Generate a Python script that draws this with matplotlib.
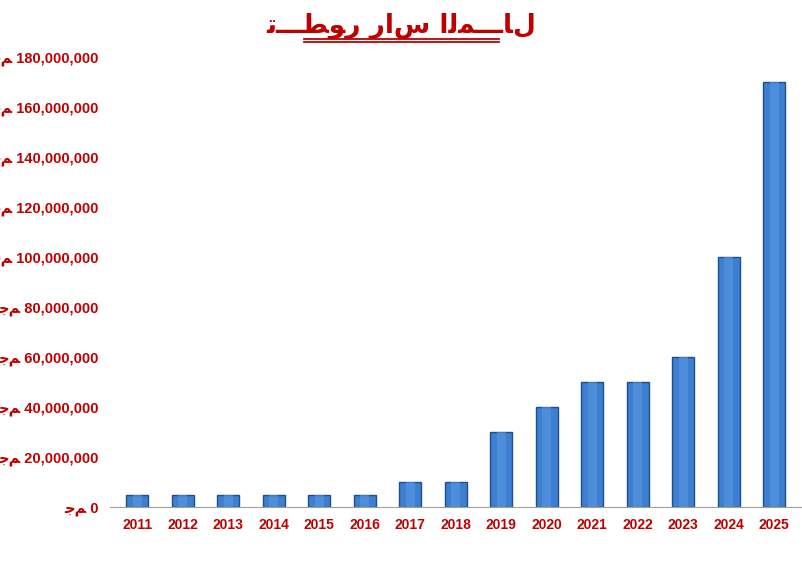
import matplotlib
matplotlib.use("Agg")
import matplotlib.pyplot as plt
from matplotlib.lines import Line2D

years = ["2011","2012","2013","2014","2015","2016","2017","2018","2019","2020","2021","2022","2023","2024","2025"]
capital = [5e6,5e6,5e6,5e6,5e6,5e6,10e6,10e6,30e6,40e6,50e6,50e6,60e6,100e6,170e6]
yticks = [0,20e6,40e6,60e6,80e6,100e6,120e6,140e6,160e6,180e6]

title = "\uFE97\u0640\u0640\u0640\uFEC4\uFEEE\uFEAD \uFEAD\uFE8D\uFEB1 \uFE8D\uFEDF\uFEE4\u0640\u0640\u0640\uFE8E\uFEDD"
unit = "\uFE9F\uFEE2"

red = "#c00000"
fam = ["Liberation Sans", "DejaVu Sans"]
fig = plt.figure(figsize=(8.03, 5.81), dpi=100)
ax = fig.add_axes([0.137, 0.127, 0.861, 0.775])
x = range(len(years))
ax.bar(x, capital, width=0.48, color="#3d7fd0", edgecolor="#1f4f8a", linewidth=1.0)
ax.bar(x, capital, width=0.2, color="#5b98e0", linewidth=0, alpha=0.6)
ax.set_ylim(0, 180e6)
ax.set_xlim(-0.6, len(years) - 0.4)
ax.set_yticks(yticks)
ax.set_yticklabels([f"{unit} {int(v):,}" for v in yticks], color=red, fontweight="bold", fontsize=10.5, family=fam)
ax.set_xticks(list(x))
ax.set_xticklabels(years, color=red, fontweight="bold", fontsize=10, family=fam)
for s in ["top", "right", "left"]:
    ax.spines[s].set_visible(False)
ax.spines["bottom"].set_color("#a0a0a0")
ax.tick_params(axis="y", length=0, pad=8)
ax.tick_params(axis="x", length=0, pad=8)

fig.text(0.5, 0.955, title, ha="center", va="center", color=red, fontsize=19, fontweight="bold", family="DejaVu Sans")
for yy in (0.933, 0.927):
    fig.add_artist(Line2D([0.378, 0.622], [yy, yy], color=red, linewidth=1.3, transform=fig.transFigure))

fig.savefig("out.png", dpi=100)
